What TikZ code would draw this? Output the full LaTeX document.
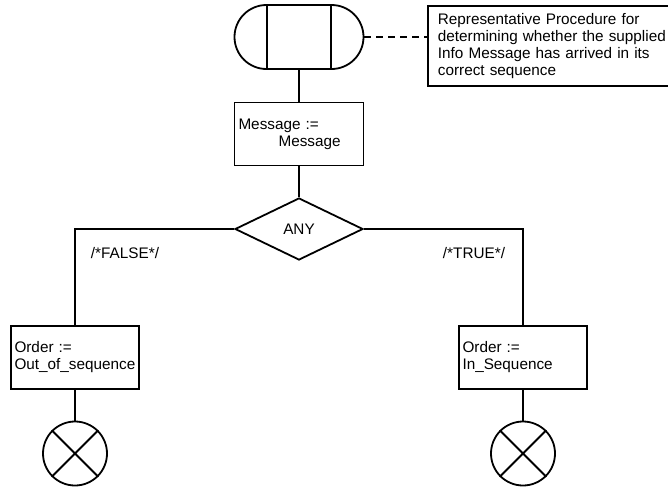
\documentclass[tikz,border=0pt]{standalone}
\usepackage{fontspec}
\setmainfont{Liberation Sans}
\usetikzlibrary{shapes.geometric}

\begin{document}
\begin{tikzpicture}[x=1pt, y=-1pt, line width=1.8pt,
    font=\fontsize{15.3}{17}\selectfont,
    taskbox/.style={draw, rectangle, minimum width=128pt, minimum height=63pt,
        text width=121pt, inner xsep=3.5pt, align=left},
    stopsign/.style={draw, circle, minimum size=64pt, inner sep=0pt}]
    \clip (0,0) rectangle (668,490);

    % 开始符号
    \node[draw, rounded corners=32pt, minimum width=129pt, minimum height=64pt] (start) at (299,37) {};
    \draw ([xshift=-32pt]start.north) -- ([xshift=-32pt]start.south);
    \draw ([xshift=32pt]start.north) -- ([xshift=32pt]start.south);

    % 注释
    \node[draw, anchor=north west, minimum width=280pt, minimum height=80pt,
        text width=260pt, inner xsep=5pt, align=left] (note) at (427,5) {
        Representative Procedure for\\
        determining whether the supplied\\
        Info Message has arrived in its\\
        correct sequence
    };
    \draw[dashed, dash pattern=on 7pt off 5pt] (start.east) -- (note.west |- start.east);

    % 赋值
    \node[taskbox, minimum width=129pt] (msg) at (299,134) {Message :=\\\hspace*{40pt}Message};
    \draw (start.south) -- (msg.north);

    % 判断
    \node[draw, diamond, minimum width=128pt, minimum height=62pt, inner sep=0pt] (cond) at (299,229) {ANY};
    \draw (msg.south) -- (cond.north);

    % 两个分支
    \node[taskbox] (order1) at (75,357.5) {Order :=\\Out\_of\_sequence};
    \node[taskbox] (order2) at (523,357.5) {Order :=\\In\_Sequence};
    \draw (cond.west) -| (order1.north);
    \draw (cond.east) -| (order2.north);
    \node (lfalse) at (125,253) {/*FALSE*/};
    \node (ltrue) at (474,253) {/*TRUE*/};

    % 结束
    \node[stopsign] (stop1) at (75,453.5) {};
    \node[stopsign] (stop2) at (523,453.5) {};
    \draw (order1.south) -- (stop1.north);
    \draw (order2.south) -- (stop2.north);
    \draw (stop1.north west) -- (stop1.south east) (stop1.north east) -- (stop1.south west);
    \draw (stop2.north west) -- (stop2.south east) (stop2.north east) -- (stop2.south west);
\end{tikzpicture}
\end{document}
